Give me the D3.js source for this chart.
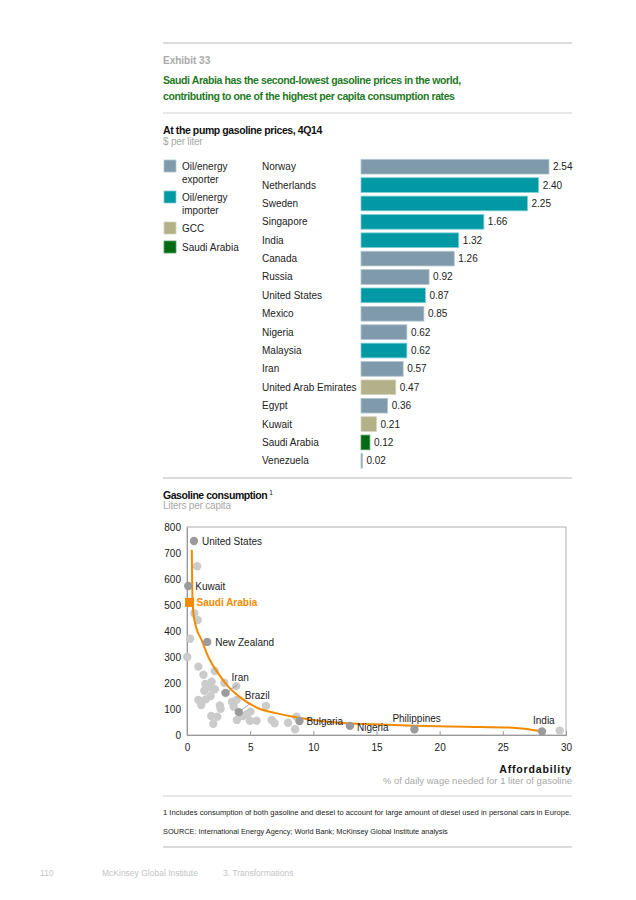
<!DOCTYPE html>
<html>
<head>
<meta charset="utf-8">
<script src="https://cdn.jsdelivr.net/npm/d3@7"></script>
<style>
  body { margin: 0; background: #fff; }
  text { font-family: "Liberation Sans", Arial, sans-serif; }
</style>
</head>
<body>
<div id="chart"></div>
<script>
// bar chart data
const countries = ["Norway", "Netherlands", "Sweden", "Singapore", "India", "Canada", "Russia",
  "United States", "Mexico", "Nigeria", "Malaysia", "Iran", "United Arab Emirates", "Egypt",
  "Kuwait", "Saudi Arabia", "Venezuela"];
const prices = [2.54, 2.40, 2.25, 1.66, 1.32, 1.26, 0.92, 0.87, 0.85, 0.62, 0.62, 0.57, 0.47, 0.36, 0.21, 0.12, 0.02];
const groups = ["exp", "imp", "imp", "imp", "imp", "exp", "exp", "imp", "exp", "exp", "imp", "exp", "gcc", "exp", "gcc", "sa", "exp"];

const legendKeys = ["exp", "imp", "gcc", "sa"];
const legendLabels = [["Oil/energy", "exporter"], ["Oil/energy", "importer"], ["GCC"], ["Saudi Arabia"]];

// scatter data - named countries
const namedCountries = ["United States", "Kuwait", "New Zealand", "Iran", "Brazil", "Bulgaria", "Nigeria", "Philippines", "India"];
const namedAfford = [0.55, 0.1, 1.6, 3.05, 4.1, 8.9, 12.9, 18.0, 28.1];
const namedLiters = [746, 573, 358, 162, 88, 54, 35, 22, 14];

const saudiAfford = 0.2;
const saudiLiters = 510;

// other countries (unlabelled)
const otherAfford = [0.8, 0.58, 0.85, 0.24, 0.02, 0.9, 1.3, 2.2, 2.95, 3.9, 1.45, 1.95, 1.8, 2.2, 1.37,
  1.87, 1.48, 0.9, 1.13, 2.6, 2.66, 3.56, 3.7, 3.93, 1.92, 2.4, 2.08, 3.95, 4.43, 4.77, 5.03, 4.98,
  5.5, 6.25, 6.7, 6.93, 8.0, 8.67, 8.56, 29.5];
const otherLiters = [649, 468, 442, 370, 300, 263, 232, 246, 201, 188, 196, 205, 183, 176, 170,
  150, 137, 135, 115, 114, 101, 127, 109, 135, 73, 70, 43, 58, 73, 81, 90, 55,
  55, 112, 58, 45, 47, 70, 22, 17];

// trend line
const trendAfford = [0.38, 0.40, 0.43, 0.5, 0.6, 0.75, 1.16, 1.68, 2.47, 3.27, 4.32, 5.64, 6.96, 8.4, 10, 12, 15, 18, 22, 25.8, 28.1];
const trendLiters = [712, 620, 530, 470, 440, 410, 365, 301, 237, 186, 141, 103, 85, 70, 58, 47, 41, 36, 32, 28, 14];

const yTicks = [0, 100, 200, 300, 400, 500, 600, 700, 800];
const xTicks = [0, 5, 10, 15, 20, 25, 30];

const colors = { exp: "#7f9aaa", imp: "#0099a4", gcc: "#b3b189", sa: "#006b14" };
const edge = { exp: "#b5c6cf", imp: "#7ccfd4", gcc: "#d6d5bd", sa: "#5a9e63" };
const orange = "#f28a00";

const svg = d3.select("#chart").append("svg")
  .attr("width", 636)
  .attr("height", 900);

// separators
function rule(y, w) {
  svg.append("line")
    .attr("x1", 163).attr("x2", 572)
    .attr("y1", y).attr("y2", y)
    .attr("stroke", "#cfcfcf")
    .attr("stroke-width", w);
}
rule(43, 1.5);
rule(113, 1);
rule(478, 1.5);
rule(796, 1);
rule(847, 1.5);

// header
svg.append("text").attr("x", 163).attr("y", 64)
  .attr("font-size", 10).attr("font-weight", "bold").attr("fill", "#a8a8a8")
  .text("Exhibit 33");
svg.append("text").attr("x", 163).attr("y", 84)
  .attr("font-size", 10.5).attr("font-weight", "bold").attr("fill", "#1f7a1f")
  .attr("letter-spacing", -0.4)
  .text("Saudi Arabia has the second-lowest gasoline prices in the world,");
svg.append("text").attr("x", 163).attr("y", 100)
  .attr("font-size", 10.5).attr("font-weight", "bold").attr("fill", "#1f7a1f")
  .attr("letter-spacing", -0.4)
  .text("contributing to one of the highest per capita consumption rates");

svg.append("text").attr("x", 163).attr("y", 134)
  .attr("font-size", 10.5).attr("font-weight", "bold").attr("fill", "#111")
  .attr("letter-spacing", -0.4)
  .text("At the pump gasoline prices, 4Q14");
svg.append("text").attr("x", 163).attr("y", 145)
  .attr("font-size", 10).attr("fill", "#a8a8a8")
  .attr("letter-spacing", -0.2)
  .text("$ per liter");

// legend
const legendY = [160, 191, 222, 241];
legendKeys.forEach((k, i) => {
  svg.append("rect")
    .attr("x", 164).attr("y", legendY[i])
    .attr("width", 12).attr("height", 12)
    .attr("fill", colors[k]).attr("stroke", edge[k]).attr("stroke-width", 0.8);
  legendLabels[i].forEach((t, j) => {
    svg.append("text")
      .attr("x", 182).attr("y", legendY[i] + 10 + j * 13)
      .attr("font-size", 10).attr("fill", "#222")
      .text(t);
  });
});

// bar chart
const xBar = d3.scaleLinear().domain([0, 2.54]).range([361, 549]);
const yBar = d3.scaleBand().domain(countries).range([157.5, 470]).paddingInner(0.2).paddingOuter(0.1);

svg.selectAll(".bar")
  .data(countries)
  .enter().append("rect")
  .attr("class", "bar")
  .attr("x", xBar(0))
  .attr("y", d => yBar(d))
  .attr("width", (d, i) => Math.max(1, xBar(prices[i]) - xBar(0)))
  .attr("height", yBar.bandwidth())
  .attr("fill", (d, i) => colors[groups[i]])
  .attr("stroke", (d, i) => edge[groups[i]])
  .attr("stroke-width", 0.8);

svg.selectAll(".cname")
  .data(countries)
  .enter().append("text")
  .attr("class", "cname")
  .attr("x", 262)
  .attr("y", d => yBar(d) + yBar.bandwidth() / 2 + 3.5)
  .attr("font-size", 10).attr("fill", "#222")
  .text(d => d);

svg.selectAll(".cval")
  .data(countries)
  .enter().append("text")
  .attr("class", "cval")
  .attr("x", (d, i) => Math.max(xBar(prices[i]), xBar(0) + 1) + 4)
  .attr("y", d => yBar(d) + yBar.bandwidth() / 2 + 3.5)
  .attr("font-size", 10).attr("fill", "#222")
  .text((d, i) => prices[i].toFixed(2));

// scatter header
const gh = svg.append("text").attr("x", 163).attr("y", 499)
  .attr("font-size", 10.5).attr("font-weight", "bold").attr("fill", "#111")
  .attr("letter-spacing", -0.45);
gh.append("tspan").text("Gasoline consumption");
gh.append("tspan").attr("font-size", 6.5).attr("font-weight", "normal").attr("dx", 2).attr("dy", -4).text("1");
svg.append("text").attr("x", 163).attr("y", 509)
  .attr("font-size", 10).attr("fill", "#a8a8a8")
  .attr("letter-spacing", -0.2)
  .text("Liters per capita");

// scatter
const x = d3.scaleLinear().domain([0, 30]).range([187, 566]);
const y = d3.scaleLinear().domain([0, 800]).range([735, 527]);

svg.append("rect")
  .attr("x", 187).attr("y", 527)
  .attr("width", 379).attr("height", 208)
  .attr("fill", "none").attr("stroke", "#b0b0b0").attr("stroke-width", 1);

const yAxis = svg.append("g")
  .attr("transform", "translate(187,0)")
  .call(d3.axisLeft(y).tickValues(yTicks).tickSize(0).tickPadding(6));
yAxis.select(".domain").attr("stroke", "#999");
yAxis.selectAll("text").attr("font-size", 10).attr("fill", "#222")
  .style("font-family", "Liberation Sans, Arial, sans-serif");

const xAxis = svg.append("g")
  .attr("transform", "translate(0,735)")
  .call(d3.axisBottom(x).tickValues(xTicks).tickSize(-4).tickPadding(9));
xAxis.select(".domain").attr("stroke", "#999");
xAxis.selectAll("line").attr("stroke", "#999");
xAxis.selectAll("text").attr("font-size", 10).attr("fill", "#222")
  .style("font-family", "Liberation Sans, Arial, sans-serif");

// other points
svg.selectAll(".other")
  .data(otherAfford)
  .enter().append("circle")
  .attr("class", "other")
  .attr("cx", d => x(d))
  .attr("cy", (d, i) => y(otherLiters[i]))
  .attr("r", 4.2)
  .attr("fill", "#cbcbcb");

// leader lines for Iran, Brazil
svg.append("line")
  .attr("x1", x(3.05)).attr("y1", y(162))
  .attr("x2", x(3.05) + 12).attr("y2", y(162) - 8)
  .attr("stroke", "#888").attr("stroke-width", 0.8);
svg.append("line")
  .attr("x1", x(4.1)).attr("y1", y(88))
  .attr("x2", x(4.1) + 12).attr("y2", y(88) - 9)
  .attr("stroke", "#888").attr("stroke-width", 0.8);

// trend line
const trend = trendAfford.map((d, i) => [d, trendLiters[i]]);
svg.append("path")
  .datum(trend)
  .attr("fill", "none")
  .attr("stroke", orange)
  .attr("stroke-width", 2)
  .attr("d", d3.line().x(d => x(d[0])).y(d => y(d[1])).curve(d3.curveMonotoneX));

// named points
svg.selectAll(".named")
  .data(namedAfford)
  .enter().append("circle")
  .attr("class", "named")
  .attr("cx", d => x(d))
  .attr("cy", (d, i) => y(namedLiters[i]))
  .attr("r", 4.2)
  .attr("fill", "#9b9b9b");

// Saudi marker
svg.append("rect")
  .attr("x", x(saudiAfford) - 4.5).attr("y", y(saudiLiters) - 4.5)
  .attr("width", 9).attr("height", 9)
  .attr("fill", orange);

// labels for named points
const labelDx = [8, 7, 8, 6, 6, 7, 7, -22, -9];
const labelDy = [4, 4, 4, -12, -13, 4, 5, -7, -7];
namedCountries.forEach((c, i) => {
  svg.append("text")
    .attr("x", x(namedAfford[i]) + labelDx[i])
    .attr("y", y(namedLiters[i]) + labelDy[i])
    .attr("font-size", 10).attr("fill", "#222")
    .text(c);
});
svg.append("text")
  .attr("x", x(saudiAfford) + 7).attr("y", y(saudiLiters) + 4)
  .attr("font-size", 10).attr("font-weight", "bold").attr("fill", orange)
  .text("Saudi Arabia");

// x-axis title
svg.append("text").attr("x", 572).attr("y", 773)
  .attr("text-anchor", "end")
  .attr("font-size", 10.6).attr("font-weight", "bold").attr("fill", "#111")
  .attr("letter-spacing", 0.8)
  .text("Affordability");
svg.append("text").attr("x", 572).attr("y", 784)
  .attr("text-anchor", "end")
  .attr("font-size", 9.5).attr("fill", "#a8a8a8")
  .text("% of daily wage needed for 1 liter of gasoline");

// notes
svg.append("text").attr("x", 163).attr("y", 815)
  .attr("font-size", 7.6).attr("fill", "#222")
  .text("1   Includes consumption of both gasoline and diesel to account for large amount of diesel used in personal cars in Europe.");
svg.append("text").attr("x", 163).attr("y", 834)
  .attr("font-size", 7.35).attr("fill", "#222")
  .text("SOURCE:  International Energy Agency; World Bank; McKinsey Global Institute analysis");

// footer
svg.append("text").attr("x", 40).attr("y", 876)
  .attr("font-size", 8.5).attr("fill", "#c4c4c4").text("110");
svg.append("text").attr("x", 102).attr("y", 876)
  .attr("font-size", 8.5).attr("fill", "#c4c4c4").text("McKinsey Global Institute");
svg.append("text").attr("x", 223).attr("y", 876)
  .attr("font-size", 8.5).attr("fill", "#c4c4c4").text("3. Transformations");
</script>
</body>
</html>
